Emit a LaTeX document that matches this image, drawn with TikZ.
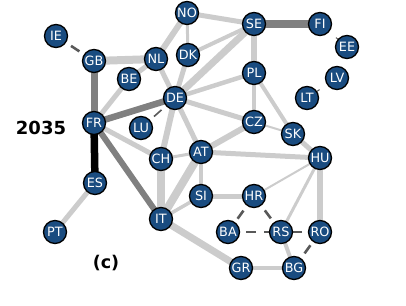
\documentclass[tikz,border=0pt]{standalone}
\usepackage{fontspec}
\setmainfont{DejaVu Sans}
\usetikzlibrary{backgrounds}
\definecolor{cblue}{HTML}{1A4C80}

\begin{document}
\begin{tikzpicture}[x=1pt, y=-1pt,
    cn/.style={circle, draw=black, line width=1.3pt, fill=cblue, text=white,
               minimum size=23pt, inner sep=0pt, font=\fontsize{12.8}{13}\selectfont},
    lg/.style={draw=gray!40},
    dg/.style={draw=gray},
    ds/.style={draw=black!65, line width=2.6pt, dash pattern=on 10pt off 8pt},
    hair/.style={draw=black!65, line width=1pt, dash pattern=on 11pt off 10pt}
]
    \useasboundingbox (0,0) rectangle (406,305);

    % Labels
    \node[font=\bfseries\fontsize{18}{20}\selectfont] (yr)  at (41,128)  {2035};
    \node[font=\bfseries\fontsize{17.5}{20}\selectfont] (sub) at (106,263) {(c)};

    % West
    \node[cn] (IE) at (56,36)   {IE};
    \node[cn] (GB) at (94,61)   {GB};
    \node[cn] (BE) at (129,79)  {BE};
    \node[cn] (NL) at (156,59)  {NL};
    \node[cn] (FR) at (94,123)  {FR};
    \node[cn] (LU) at (141,128) {LU};
    \node[cn] (ES) at (95,183)  {ES};
    \node[cn] (PT) at (55,232)  {PT};

    % North
    \node[cn] (NO) at (187,13)  {NO};
    \node[cn] (DK) at (188,55)  {DK};
    \node[cn] (SE) at (254,24)  {SE};
    \node[cn] (FI) at (320,24)  {FI};
    \node[cn] (EE) at (347,47)  {EE};
    \node[cn] (LV) at (337,78)  {LV};
    \node[cn] (LT) at (307,98)  {LT};

    % Centre
    \node[cn] (DE) at (175,98)  {DE};
    \node[cn] (PL) at (254,73)  {PL};
    \node[cn] (CZ) at (254,122) {CZ};
    \node[cn] (SK) at (293,134) {SK};
    \node[cn] (AT) at (201,152) {AT};
    \node[cn] (CH) at (161,159) {CH};
    \node[cn] (HU) at (320,158) {HU};

    % South
    \node[cn] (SI) at (201,196) {SI};
    \node[cn] (HR) at (254,196) {HR};
    \node[cn] (IT) at (161,219) {IT};
    \node[cn] (BA) at (228,232) {BA};
    \node[cn] (RS) at (281,232) {RS};
    \node[cn] (RO) at (320,232) {RO};
    \node[cn] (GR) at (241,268) {GR};
    \node[cn] (BG) at (294,268) {BG};

    \begin{pgfonlayer}{background}
    % Light links
    \draw[lg, line width=8pt]   (GB.center) -- (NL.center);
    \draw[lg, line width=6pt]   (NL.center) -- (NO.center);
    \draw[lg, line width=5pt]   (NL.center) -- (BE.center);
    \draw[lg, line width=5pt]   (NL.center) -- (DE.center);
    \draw[lg, line width=5pt]   (BE.center) -- (FR.center);
    \draw[lg, line width=3pt]   (NO.center) -- (DK.center);
    \draw[lg, line width=5pt]   (NO.center) -- (SE.center);
    \draw[lg, line width=5pt]   (DK.center) -- (DE.center);
    \draw[lg, line width=4pt]   (DK.center) -- (SE.center);
    \draw[lg, line width=7pt]   (SE.center) -- (DE.center);
    \draw[lg, line width=6.5pt] (SE.center) -- (PL.center);
    \draw[lg, line width=4.5pt] (DE.center) -- (PL.center);
    \draw[lg, line width=5pt]   (DE.center) -- (CZ.center);
    \draw[lg, line width=5pt]   (DE.center) -- (AT.center);
    \draw[lg, line width=6pt]   (DE.center) -- (CH.center);
    \draw[lg, line width=5pt]   (FR.center) -- (CH.center);
    \draw[lg, line width=3pt]   (CH.center) -- (AT.center);
    \draw[lg, line width=8pt]   (CH.center) -- (IT.center);
    \draw[lg, line width=8pt]   (AT.center) -- (IT.center);
    \draw[lg, line width=6pt]   (AT.center) -- (CZ.center);
    \draw[lg, line width=4pt]   (AT.center) -- (SI.center);
    \draw[lg, line width=5pt]   (AT.center) -- (HU.center);
    \draw[lg, line width=4.5pt] (PL.center) -- (CZ.center);
    \draw[lg, line width=4pt]   (PL.center) -- (SK.center);
    \draw[lg, line width=2pt]   (CZ.center) -- (SK.center);
    \draw[lg, line width=5pt]   (SK.center) -- (HU.center);
    \draw[lg, line width=2pt]   (HU.center) -- (HR.center);
    \draw[lg, line width=3pt]   (HU.center) -- (RS.center);
    \draw[lg, line width=6pt]   (HU.center) -- (RO.center);
    \draw[lg, line width=3.5pt] (SI.center) -- (IT.center);
    \draw[lg, line width=5pt]   (SI.center) -- (HR.center);
    \draw[lg, line width=7pt]   (IT.center) -- (GR.center);
    \draw[lg, line width=4pt]   (GR.center) -- (BG.center);
    \draw[lg, line width=4pt]   (RS.center) -- (BG.center);
    \draw[lg, line width=5pt]   (ES.center) -- (PT.center);

    % Heavy links
    \draw[dg, line width=7pt]   (GB.center) -- (FR.center);
    \draw[dg, line width=6.5pt] (FR.center) -- (DE.center);
    \draw[dg, line width=6pt]   (FR.center) -- (IT.center);
    \draw[dg, line width=7.5pt] (SE.center) -- (FI.center);
    \draw[black, line width=7.5pt] (FR.center) -- (ES.center);

    % Dashed links
    \draw[ds] (IE.center) -- (GB.center);
    \draw[ds, line width=1.6pt] (DE.center) -- (LU.center);
    \draw[ds] (HR.center) -- (BA.center);
    \draw[ds] (HR.center) -- (RS.center);
    \draw[ds] (BA.center) -- (RS.center);
    \draw[ds] (RO.center) -- (RS.center);
    \draw[ds] (BG.center) -- (RO.center);
    \draw[hair] (FI.center) -- (EE.center);
    \draw[hair] (LV.center) -- (LT.center);
    \end{pgfonlayer}
\end{tikzpicture}
\end{document}
